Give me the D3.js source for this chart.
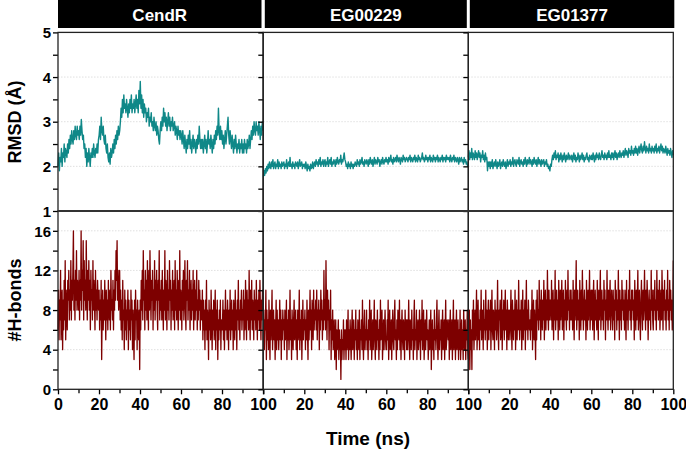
<!DOCTYPE html>
<html><head><meta charset="utf-8">
<script src="https://cdn.jsdelivr.net/npm/d3@7"></script>
<style>body{margin:0;background:#fff}svg{display:block}text{font-family:Arial,"Liberation Sans",sans-serif;font-weight:bold}</style>
</head><body><svg id="c" width="686" height="450"></svg>
<script>
const systems = ["CendR","EG00229","EG01377"];
const xTicks = [0,20,40,60,80,100];
const rmsdTicks = [1,2,3,4,5];
const hbTicks = [0,4,8,12,16];

const rmsdCendR = [
2.0,2.3,1.9,2.2,2.1,2.4,2.0,2.3,2.2,2.5,2.1,2.4,2.3,2.2,2.5,2.3,2.6,2.4,2.7,2.5,2.8,2.6,2.5,2.8,2.6,2.9,2.7,2.6,2.9,2.7,
2.8,2.6,2.9,2.7,3.05,2.8,2.6,2.7,2.4,2.5,2.2,2.4,2.0,2.3,2.1,2.4,2.2,2.0,2.3,2.2,2.4,2.2,2.5,2.3,2.2,2.4,2.3,2.5,2.3,2.6,
2.7,2.9,2.6,3.1,2.8,2.7,2.9,2.6,2.5,2.7,2.4,2.3,2.5,2.2,2.1,2.3,2.05,2.4,2.2,2.3,2.5,2.3,2.6,2.4,2.7,2.5,2.8,2.6,2.9,2.7,
2.8,3.0,3.3,3.1,3.5,3.2,3.6,3.3,3.4,3.2,3.5,3.3,3.1,3.4,3.2,3.5,3.3,3.6,3.2,3.4,3.3,3.5,3.2,3.4,3.6,3.3,3.5,3.2,3.7,3.4,
3.9,3.3,3.6,3.2,3.5,3.1,3.4,3.2,3.3,3.0,3.2,3.1,3.3,2.9,3.1,3.0,3.2,2.9,3.0,2.8,3.1,2.9,2.8,3.0,2.7,2.9,2.8,2.6,2.5,2.8,
3.0,2.8,3.1,2.9,3.3,3.0,3.2,2.9,3.1,2.8,3.0,3.2,2.9,3.1,2.8,3.0,2.9,3.1,2.8,2.9,3.0,2.7,2.9,2.8,2.6,2.9,2.7,2.8,2.6,2.8,
2.7,2.5,2.8,2.6,2.4,2.7,2.5,2.3,2.6,2.4,2.7,2.5,2.8,2.4,2.6,2.3,2.5,2.7,2.4,2.6,2.5,2.3,2.6,2.4,2.7,2.5,2.9,2.6,2.4,2.6,
2.4,2.6,2.3,2.5,2.7,2.4,2.6,2.3,2.5,2.8,2.5,2.6,2.4,2.7,2.5,2.3,2.6,2.4,2.7,2.5,2.8,2.6,2.9,2.7,3.3,2.8,2.6,2.9,2.6,2.8,
2.5,2.7,2.4,2.6,2.8,2.5,2.7,2.9,3.1,2.7,2.5,2.8,2.6,2.4,2.7,2.5,2.3,2.6,2.4,2.7,2.5,2.3,2.5,2.4,2.6,2.3,2.5,2.4,2.6,2.3,
2.5,2.3,2.6,2.4,2.5,2.3,2.6,2.4,2.5,2.7,2.4,2.6,2.8,2.6,2.9,2.7,3.0,2.8,2.7,3.0,2.8,2.9,2.7,3.0,2.8,2.6,2.9,2.7,3.0,2.8];

const rmsdEG00229 = [
1.75,1.9,1.8,1.95,1.85,2.0,1.9,2.05,1.95,2.1,2.0,1.95,2.1,2.0,2.15,1.95,2.05,2.1,1.95,2.05,2.0,2.15,1.95,2.1,2.0,2.05,1.95,2.1,2.0,2.05,
2.1,1.95,2.05,2.0,2.15,1.95,2.05,2.1,2.0,2.2,2.0,2.05,1.95,2.1,2.0,2.05,1.95,2.1,2.05,2.0,2.1,1.95,2.05,2.15,2.0,2.05,2.1,1.95,2.05,2.0,
2.05,1.95,2.1,2.0,1.9,2.05,1.95,2.0,1.9,2.05,1.95,2.0,2.1,1.95,2.05,2.1,2.0,2.15,2.05,2.1,2.0,2.15,2.05,2.2,2.0,2.1,2.05,2.15,2.0,2.1,
2.15,2.0,2.1,2.05,2.2,2.0,2.1,2.15,2.05,2.2,2.0,2.1,2.05,2.15,2.1,2.0,2.15,2.05,2.2,2.1,2.05,2.15,2.1,2.25,2.05,2.15,2.1,2.2,2.3,2.15,
2.1,2.0,2.05,1.95,2.1,2.0,2.05,1.95,2.1,2.0,2.05,1.95,2.05,2.0,2.1,2.05,2.0,2.15,2.05,2.1,2.0,2.15,2.05,2.1,2.2,2.05,2.1,2.0,2.15,2.1,
2.05,2.15,2.1,2.0,2.15,2.05,2.2,2.1,2.05,2.15,2.0,2.1,2.2,2.05,2.15,2.1,2.05,2.2,2.1,2.15,2.0,2.1,2.15,2.05,2.2,2.1,2.05,2.15,2.1,2.2,
2.1,2.15,2.05,2.2,2.1,2.15,2.25,2.1,2.15,2.05,2.2,2.1,2.15,2.2,2.1,2.25,2.15,2.1,2.2,2.15,2.05,2.2,2.15,2.1,2.25,2.15,2.2,2.1,2.15,2.2,
2.15,2.1,2.2,2.15,2.25,2.1,2.2,2.15,2.1,2.2,2.15,2.25,2.1,2.2,2.15,2.1,2.25,2.15,2.2,2.1,2.15,2.2,2.3,2.15,2.2,2.1,2.15,2.25,2.15,2.2,
2.1,2.2,2.15,2.25,2.1,2.2,2.15,2.1,2.25,2.15,2.2,2.1,2.2,2.15,2.25,2.1,2.2,2.15,2.1,2.2,2.15,2.25,2.1,2.2,2.15,2.2,2.1,2.25,2.15,2.2,
2.15,2.2,2.1,2.25,2.15,2.1,2.2,2.15,2.25,2.1,2.2,2.15,2.1,2.2,2.15,2.05,2.2,2.1,2.15,2.2,2.1,2.15,2.05,2.2,2.1,2.15,2.05,2.1,2.0,2.05];

const rmsdEG01377 = [
2.2,2.35,2.15,2.3,2.2,2.4,2.15,2.3,2.25,2.15,2.35,2.2,2.3,2.15,2.25,2.35,2.2,2.3,2.1,2.25,2.2,2.35,2.15,2.25,2.1,2.3,2.15,2.2,1.9,2.1,
2.0,2.1,1.95,2.1,2.0,2.15,1.95,2.05,2.1,2.0,2.15,2.05,1.95,2.1,2.0,2.05,2.15,1.95,2.05,2.1,2.0,2.15,2.05,2.0,2.1,1.95,2.05,2.15,2.0,2.1,
2.05,2.15,2.0,2.1,2.05,2.2,2.0,2.1,2.15,2.05,2.0,2.15,2.1,2.05,2.2,2.0,2.1,2.15,2.05,2.1,2.0,2.15,2.05,2.2,2.1,2.0,2.15,2.05,2.1,2.2,
2.05,2.15,2.1,2.0,2.15,2.05,2.2,2.1,2.05,2.15,2.0,2.1,2.2,2.05,2.15,2.1,2.0,2.15,2.05,2.1,2.15,2.0,2.1,2.05,2.15,2.0,2.05,1.95,2.0,1.9,
2.05,2.0,2.15,2.25,2.15,2.3,2.2,2.35,2.15,2.25,2.2,2.3,2.1,2.25,2.15,2.3,2.2,2.1,2.25,2.15,2.3,2.2,2.1,2.25,2.15,2.2,2.3,2.15,2.25,2.2,
2.15,2.25,2.1,2.2,2.3,2.15,2.25,2.1,2.2,2.15,2.3,2.2,2.1,2.25,2.15,2.2,2.3,2.15,2.25,2.1,2.2,2.15,2.25,2.3,2.15,2.2,2.1,2.25,2.2,2.15,
2.25,2.15,2.3,2.2,2.1,2.25,2.15,2.3,2.2,2.25,2.15,2.3,2.2,2.15,2.25,2.35,2.2,2.25,2.15,2.3,2.2,2.25,2.15,2.3,2.2,2.35,2.2,2.25,2.15,2.3,
2.2,2.3,2.15,2.25,2.35,2.2,2.3,2.15,2.25,2.3,2.2,2.35,2.25,2.2,2.3,2.25,2.35,2.2,2.3,2.4,2.25,2.35,2.3,2.2,2.4,2.3,2.35,2.25,2.45,2.3,
2.35,2.25,2.4,2.3,2.45,2.3,2.4,2.25,2.35,2.45,2.3,2.4,2.5,2.35,2.3,2.45,2.35,2.55,2.4,2.3,2.45,2.35,2.4,2.3,2.5,2.35,2.4,2.3,2.45,2.35,
2.4,2.3,2.45,2.35,2.5,2.3,2.4,2.35,2.45,2.3,2.4,2.5,2.35,2.45,2.3,2.4,2.35,2.3,2.45,2.35,2.25,2.4,2.3,2.35,2.25,2.4,2.3,2.2,2.35,2.25];

const hbCendR = [
6,10,5,9,7,12,5,8,10,4,9,6,11,7,13,5,10,8,6,11,9,12,7,10,8,13,7,11,9,12,16,8,11,7,12,9,14,8,11,10,
8,12,7,11,9,16,8,12,10,15,7,13,9,11,8,15,10,7,12,9,13,8,11,6,12,9,10,7,13,8,11,9,6,12,8,10,7,11,9,8,
10,6,9,7,11,3,8,10,6,9,7,11,8,5,10,7,9,6,11,8,7,10,6,12,8,9,7,11,6,10,8,12,9,14,11,15,9,12,8,10,
12,7,10,6,9,5,11,7,8,4,10,6,9,5,8,7,10,4,9,6,8,5,10,7,9,4,8,6,3,9,5,10,7,8,4,9,6,5,8,2,
9,6,11,8,12,7,14,9,10,6,12,8,11,7,13,9,6,12,8,14,10,7,11,9,12,6,10,8,13,7,11,9,12,8,6,11,9,14,7,10,
8,11,7,12,9,6,10,8,14,7,11,9,6,12,8,10,7,13,9,11,6,10,8,12,7,9,11,6,13,8,10,7,12,9,6,11,8,14,7,10,
9,6,11,8,12,7,10,13,8,6,11,9,13,7,10,8,12,6,9,11,7,10,8,12,6,9,11,7,10,8,12,6,9,7,11,8,10,6,9,8,
7,10,5,9,6,8,4,9,6,11,5,8,7,3,9,6,8,5,10,7,4,8,6,9,5,7,10,4,8,6,9,3,7,5,8,6,9,4,7,6,
6,9,5,8,4,7,10,6,8,5,9,7,4,8,6,10,5,7,9,6,8,4,9,7,5,10,6,8,4,9,7,11,6,8,5,9,7,10,6,8,
7,10,5,9,6,11,8,5,10,7,9,6,12,8,5,10,7,11,6,9,8,5,10,7,9,6,11,8,5,9,7,10,6,11,8,5,9,7,10,8];

const hbEG00229 = [
5,8,4,7,6,10,3,8,5,7,4,9,6,3,8,5,7,10,4,6,8,5,7,3,6,9,4,8,5,7,4,6,9,5,8,3,7,5,8,6,
7,4,8,5,6,9,3,7,5,8,4,6,10,5,7,3,8,6,4,7,9,5,6,8,4,7,3,8,5,6,10,4,7,5,8,3,6,9,5,7,
6,8,4,7,5,9,6,3,8,5,7,10,6,8,4,9,7,5,10,6,8,7,9,6,10,5,8,7,9,4,8,6,10,7,9,5,8,6,12,7,
9,6,13,8,5,10,7,9,4,8,6,10,3,7,5,8,4,6,7,3,5,7,2,6,4,5,7,3,6,4,5,1,6,3,5,4,7,3,6,4,
6,3,7,4,5,8,3,6,4,7,5,3,6,8,4,5,7,3,6,5,8,4,6,3,7,5,4,8,3,6,5,7,4,9,5,3,6,8,4,6,
5,8,4,6,3,7,5,9,4,6,8,3,5,7,4,6,9,5,3,7,6,4,8,5,6,3,7,4,9,5,6,8,3,5,7,4,6,8,5,4,
4,7,5,9,3,6,8,4,5,7,3,6,8,5,4,7,9,5,6,3,7,4,8,6,5,9,4,7,3,6,8,5,4,7,6,3,8,5,7,4,
7,4,6,9,5,3,7,6,4,8,5,6,3,7,9,4,6,5,8,3,6,7,4,5,8,6,3,7,5,9,4,6,8,3,5,7,4,6,8,5,
6,3,5,7,4,6,8,2,5,7,4,6,3,8,5,6,4,7,9,5,3,6,8,4,6,5,7,3,6,8,4,5,7,3,6,9,4,5,7,6,
5,7,3,6,8,4,5,7,3,6,9,4,5,7,3,6,8,4,5,7,3,6,4,8,3,5,7,4,6,3,8,5,4,7,3,6,5,8,4,3];

const hbEG01377 = [
6,3,8,2,7,4,6,2,8,5,9,4,6,8,5,7,10,4,6,9,5,7,4,8,6,10,5,7,8,4,9,6,7,5,10,6,8,4,7,9,
5,8,6,9,4,7,10,6,5,8,7,4,9,6,8,5,7,11,6,4,8,7,9,5,6,10,4,8,6,9,5,7,10,6,8,4,9,7,5,8,
8,5,7,10,6,4,9,7,5,8,6,10,4,7,9,5,8,6,11,7,5,8,6,9,4,7,10,5,8,6,9,4,7,11,6,8,5,9,7,6,
7,5,8,6,10,4,7,9,5,8,6,3,9,5,10,7,8,6,11,7,9,5,10,8,6,9,7,11,5,8,10,6,9,7,12,8,6,10,7,9,
9,7,11,6,8,10,5,9,7,12,6,8,10,7,9,5,11,8,6,10,7,9,11,6,8,10,5,9,7,11,8,6,10,7,12,8,9,6,10,7,
10,7,9,6,11,8,5,10,7,9,13,6,8,10,7,9,5,11,8,6,10,7,12,9,6,8,10,7,9,5,11,8,6,10,7,9,12,6,8,10,
7,10,6,9,11,5,8,10,7,9,6,11,8,5,10,7,9,12,6,8,10,7,9,6,11,8,10,5,9,7,12,8,6,10,7,9,11,6,8,10,
8,6,10,7,9,5,11,8,10,6,9,7,12,8,5,10,7,9,6,11,8,10,7,9,6,10,8,5,11,7,9,6,10,8,12,7,9,6,10,8,
10,7,9,5,11,8,6,10,7,9,12,6,8,10,7,5,9,11,8,6,10,7,9,12,8,6,10,7,11,9,5,8,10,7,9,6,12,8,10,7,
6,10,8,11,7,9,6,12,8,10,7,9,11,6,8,10,7,12,9,6,10,8,11,7,9,6,10,8,12,7,9,6,11,8,10,7,9,6,8,13];

const rmsdSeries = [rmsdCendR, rmsdEG00229, rmsdEG01377];
const hbSeries = [hbCendR, hbEG00229, hbEG01377];

const svg = d3.select("#c");
const panelLeft = [58, 263.3, 468.3];
const panelW = 205;
const yTop = d3.scaleLinear().domain([1,5]).range([211, 32.4]);
const yBot = d3.scaleLinear().domain([0,18]).range([389.3, 211]);
const teal = "#0f8888", red = "#7d0000";

systems.forEach((name, p) => {
  const x0 = panelLeft[p];
  const x = d3.scaleLinear().domain([0,100]).range([x0, x0+panelW]);
  const hx0 = x0 + (p>0 ? 1.5 : 0), hx1 = x0 + panelW - (p<2 ? 1.5 : -1);
  svg.append("rect").attr("x",hx0).attr("y",0).attr("width",hx1-hx0).attr("height",28).attr("fill","#000");
  svg.append("text").attr("x",(hx0+hx1)/2).attr("y",20.5).attr("text-anchor","middle")
    .attr("fill","#fff").attr("font-size",17).text(name);

  const g = svg.append("g");
  [2,3,4].forEach(v => g.append("line").attr("x1",x0).attr("x2",x0+panelW).attr("y1",yTop(v)).attr("y2",yTop(v))
    .attr("stroke","#d8d8d8").attr("stroke-width",0.8).attr("stroke-dasharray","1.5,1.5"));
  [4,8,12,16].forEach(v => g.append("line").attr("x1",x0).attr("x2",x0+panelW).attr("y1",yBot(v)).attr("y2",yBot(v))
    .attr("stroke","#d8d8d8").attr("stroke-width",0.8).attr("stroke-dasharray","1.5,1.5"));

  const r = rmsdSeries[p];
  const lineR = d3.line().x((d,i)=>x(i*100/(r.length-1))).y(d=>yTop(d));
  svg.append("path").datum(r).attr("d",lineR).attr("fill","none").attr("stroke",teal).attr("stroke-width",1.4).attr("stroke-linejoin","round");

  const h = hbSeries[p];
  const lineH = d3.line().x((d,i)=>x(i*100/(h.length-1))).y(d=>yBot(d));
  svg.append("path").datum(h).attr("d",lineH).attr("fill","none").attr("stroke",red).attr("stroke-width",1.3).attr("stroke-linejoin","round");

  const axT = d3.axisLeft(yTop).tickValues(d3.range(1,5.01,0.5)).tickSize(5).tickFormat(d => (p===0 && Number.isInteger(d)) ? d : "");
  const aT = svg.append("g").attr("transform",`translate(${x0},0)`).call(axT);
  const axB = d3.axisLeft(yBot).tickValues(d3.range(0,16.01,2)).tickSize(5).tickFormat(d => (p===0 && hbTicks.includes(d)) ? d : "");
  const aB = svg.append("g").attr("transform",`translate(${x0},0)`).call(axB);
  [aT,aB].forEach(a => {
    a.select(".domain").remove();
    a.selectAll("line").attr("stroke","#000").attr("stroke-width",1.3);
    a.selectAll("text").attr("font-size",15).attr("fill","#000").attr("x",-7).attr("dy","0.35em");
  });

  const axX = d3.axisBottom(x).tickValues(d3.range(0,100.01,10)).tickSize(5)
    .tickFormat(d => (xTicks.includes(d) && !(p>0 && d===0)) ? d : "");
  const aX = svg.append("g").attr("transform",`translate(0,389.3)`).call(axX);
  aX.select(".domain").remove();
  aX.selectAll("line").attr("stroke","#000").attr("stroke-width",1.3);
  aX.selectAll(".tick").filter(d => !xTicks.includes(d)).select("line").attr("y2",4);
  aX.selectAll("text").attr("font-size",16).attr("fill","#000").attr("y",9).attr("dy","0.71em");

  svg.append("rect").attr("x",x0).attr("y",32.4).attr("width",panelW).attr("height",211-32.4)
    .attr("fill","none").attr("stroke","#222").attr("stroke-width",1.3);
  svg.append("rect").attr("x",x0).attr("y",211).attr("width",panelW).attr("height",389.3-211)
    .attr("fill","none").attr("stroke","#222").attr("stroke-width",1.3);
});

svg.append("line").attr("x1",58).attr("x2",673.3).attr("y1",211).attr("y2",211).attr("stroke","#333").attr("stroke-width",2);

svg.append("text").attr("transform","translate(21,122) rotate(-90)").attr("text-anchor","middle").attr("font-size",18).text("RMSD (Å)");
svg.append("text").attr("transform","translate(21,300) rotate(-90)").attr("text-anchor","middle").attr("font-size",18).text("#H-bonds");
svg.append("text").attr("x",368).attr("y",445).attr("text-anchor","middle").attr("font-size",19).text("Time (ns)");
</script></body></html>
